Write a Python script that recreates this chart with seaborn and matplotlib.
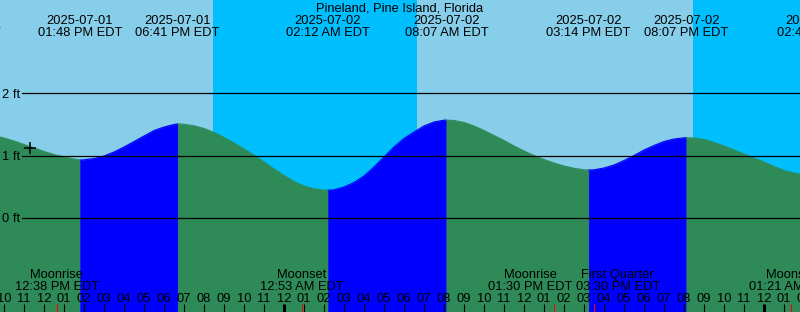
import numpy as np
import pandas as pd
import matplotlib
matplotlib.use("Agg")
import matplotlib.pyplot as plt
import matplotlib.transforms as mtransforms
import seaborn as sns

# ---------------- data ----------------
station = "Pineland, Pine Island, Florida"
tz_label = "EDT"

# tide height (ft) read every 30 minutes, starting at curve_start
curve_start = "2025-07-01 09:00"
curve_heights_ft = [
    1.355, 1.323, 1.283, 1.235, 1.179, 1.123, 1.067, 1.018, 0.978, 0.946,
    0.933, 0.954, 0.994, 1.059, 1.139, 1.227, 1.315, 1.403, 1.459, 1.500,
    1.503, 1.479, 1.435, 1.371, 1.291, 1.203, 1.107, 1.006, 0.898, 0.786,
    0.682, 0.585, 0.513, 0.468, 0.449, 0.452, 0.497, 0.569, 0.674, 0.818,
    0.978, 1.139, 1.275, 1.379, 1.476, 1.540, 1.569, 1.564, 1.532, 1.476,
    1.403, 1.323, 1.243, 1.155, 1.075, 1.002, 0.938, 0.882, 0.834, 0.797,
    0.773, 0.773, 0.802, 0.850, 0.922, 1.002, 1.091, 1.163, 1.227, 1.267,
    1.286, 1.283, 1.259, 1.211, 1.155, 1.091, 1.026, 0.962, 0.898, 0.826,
    0.762, 0.722, 0.690,
]

# high / low tides
extreme_times = ["2025-07-01 07:43", "2025-07-01 13:48", "2025-07-01 18:41",
                 "2025-07-02 02:12", "2025-07-02 08:07", "2025-07-02 15:14",
                 "2025-07-02 20:07", "2025-07-03 02:45"]
extreme_heights_ft = [1.37, 0.93, 1.51, 0.445, 1.57, 0.77, 1.288, 0.66]

# sun: night intervals
night_starts = ["2025-07-01 20:26", "2025-07-02 20:26"]
night_ends = ["2025-07-02 06:38", "2025-07-03 06:39"]

# moon events
moon_times = ["2025-07-01 12:38", "2025-07-02 00:53", "2025-07-02 13:30",
              "2025-07-02 15:30", "2025-07-03 01:21"]
moon_names = ["Moonrise", "Moonset", "Moonrise", "First Quarter", "Moonset"]

# current time mark
now_time = "2025-07-01 11:18"
now_height_ft = 1.12

height_levels_ft = [0, 1, 2]

# ---------------- layout constants ----------------
W, H = 800, 312
t0 = pd.Timestamp("2025-07-01 10:00")     # reference time (pixel x = 4)
PX_PER_HOUR = 20.0
X0_PX = 4.0
ZERO_PX = 218.0
PX_PER_FT = 62.35

DAY = "#87CEEB"
NIGHT = "#00BFFF"
RISE = "#0000FF"
FALL = "#2E8B57"
FONT = ["Liberation Sans", "DejaVu Sans"]
FS = 9.3


def hours(t):
    return (pd.Timestamp(t) - t0) / pd.Timedelta(hours=1)


def yfrac(px):
    return 1.0 - px / H


sns.set_theme(style="white")
plt.rcParams["font.family"] = FONT

fig = plt.figure(figsize=(W / 100, H / 100), dpi=100)
ax = fig.add_axes([0, 0, 1, 1])
ax.set_axis_off()
ax.add_patch(plt.Rectangle((0, 0), 1, 1, transform=ax.transAxes, color=DAY, zorder=-5))

xmin = -X0_PX / PX_PER_HOUR
xmax = (W - X0_PX) / PX_PER_HOUR
ymax = ZERO_PX / PX_PER_FT
ymin = -(H - ZERO_PX) / PX_PER_FT

# night shading
for s, e in zip(night_starts, night_ends):
    ax.axvspan(hours(s), hours(e), color=NIGHT, lw=0, zorder=-4)

# curve data
ctimes = pd.date_range(curve_start, periods=len(curve_heights_ft), freq="30min")
curve = pd.DataFrame({"h": [hours(t) for t in ctimes], "ft": curve_heights_ft})
ext = pd.DataFrame({"h": [hours(t) for t in extreme_times], "ft": extreme_heights_ft})
allpts = pd.concat([curve, ext]).sort_values("h").drop_duplicates("h").reset_index(drop=True)

rows = []
eh = ext["h"].tolist()
ef = ext["ft"].tolist()
for i in range(len(eh) - 1):
    rising = ef[i + 1] > ef[i]
    m = (allpts["h"] >= eh[i]) & (allpts["h"] <= eh[i + 1])
    seg = allpts[m].copy()
    if seg.empty:
        continue
    col = RISE if rising else FALL
    seg["seg"] = i
    seg["color"] = col
    rows.append(seg)
    ax.fill_between(seg["h"], seg["ft"], ymin, facecolor=col, edgecolor=col,
                    lw=0.3, zorder=-2)
segdf = pd.concat(rows)
palette = {int(k): c for k, c in segdf.groupby("seg")["color"].first().items()}
sns.lineplot(data=segdf, x="h", y="ft", hue="seg", palette=palette, estimator=None,
             legend=False, lw=0.8, ax=ax, zorder=-1)
ax.set_xlim(xmin, xmax)
ax.set_ylim(ymin, ymax)
ax.set_axis_off()

# height lines and labels
for lv in height_levels_ft:
    ax.axhline(lv, xmin=22 / W, xmax=1, color="black", lw=0.9, zorder=2)
    ypx = ZERO_PX - lv * PX_PER_FT
    ax.text(2 / W, yfrac(ypx + 4.2), f"{lv} ft", transform=ax.transAxes,
            ha="left", va="baseline", fontsize=FS, color="black", zorder=3)

trans = mtransforms.blended_transform_factory(ax.transData, ax.transAxes)

# title
ax.text(0.5, yfrac(11.7), station, transform=ax.transAxes, ha="center",
        va="baseline", fontsize=FS, color="black", zorder=3)

# tide event labels
for t in extreme_times:
    ts = pd.Timestamp(t)
    x = hours(t)
    ax.text(x, yfrac(24.0), ts.strftime("%Y-%m-%d"), transform=trans, ha="center",
            va="baseline", fontsize=FS, color="black", zorder=3)
    ax.text(x, yfrac(35.7), ts.strftime("%I:%M %p ") + tz_label, transform=trans,
            ha="center", va="baseline", fontsize=FS, color="black", zorder=3)

# moon labels (spread apart when crowded)
mx = [hours(t) for t in moon_times]
lab_x = list(mx)
min_sep = 4.375
for i in range(len(lab_x) - 1):
    gap = lab_x[i + 1] - lab_x[i]
    if gap < min_sep:
        push = (min_sep - gap) / 2
        lab_x[i] -= push
        lab_x[i + 1] += push
for t, name, lx in zip(moon_times, moon_names, lab_x):
    ts = pd.Timestamp(t)
    ax.text(lx, yfrac(278.3), name, transform=trans, ha="center", va="baseline",
            fontsize=FS, color="black", zorder=3)
    ax.text(lx, yfrac(290.0), ts.strftime("%I:%M %p ") + tz_label, transform=trans,
            ha="center", va="baseline", fontsize=FS, color="black", zorder=3)

# hour ticks and labels
for hh in range(-1, 42):
    t = t0 + pd.Timedelta(hours=hh)
    midnight = t.hour == 0
    ax.plot([hh, hh], [yfrac(303.5), yfrac(312)], transform=trans, color="black",
            lw=2.2 if midnight else 0.8, solid_capstyle="butt", zorder=3)
    ax.text(hh, yfrac(301.7), t.strftime("%I"), transform=trans, ha="center",
            va="baseline", fontsize=FS, color="black", zorder=3)

for x in mx:
    ax.plot([x, x], [yfrac(303.5), yfrac(312)], transform=trans, color="#FF0000",
            lw=0.8, solid_capstyle="butt", zorder=4)

# current time mark
ax.plot([hours(now_time)], [now_height_ft], marker="+", ms=9, mew=1.1,
        color="black", zorder=5)

fig.savefig("out.png", dpi=100)
